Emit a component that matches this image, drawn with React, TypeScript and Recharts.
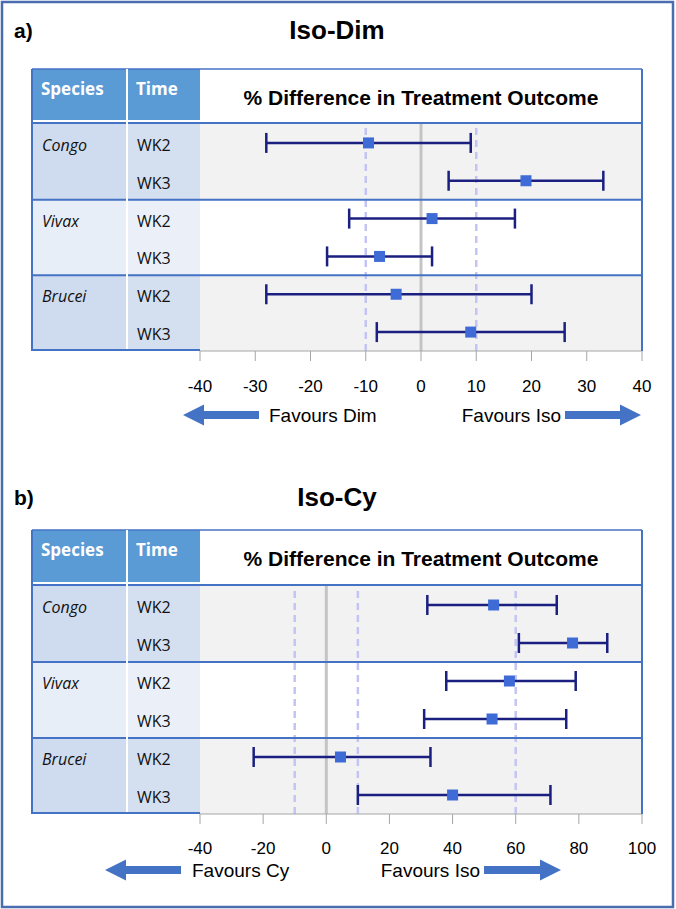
import React from "react";
import { ScatterChart, Scatter, XAxis, YAxis, ErrorBar, ReferenceArea, ReferenceLine } from "recharts";

// --- data ---
const SPECIES = ["Congo", "Vivax", "Brucei"];
const TIMES = ["WK2", "WK3"];

// Iso vs Dim (rows: Congo WK2, Congo WK3, Vivax WK2, Vivax WK3, Brucei WK2, Brucei WK3)
const isoDimMean = [-9.5, 19, 2, -7.5, -4.5, 9];
const isoDimLow = [-28, 5, -13, -17, -28, -8];
const isoDimHigh = [9, 33, 17, 2, 20, 26];
const isoDimTicks = [-40, -30, -20, -10, 0, 10, 20, 30, 40];
const isoDimGuides = [-10, 10];

// Iso vs Cy
const isoCyMean = [53, 78, 58, 52.5, 4.5, 40];
const isoCyLow = [32, 61, 38, 31, -23, 10];
const isoCyHigh = [73, 89, 79, 76, 33, 71];
const isoCyTicks = [-40, -20, 0, 20, 40, 60, 80, 100];
const isoCyGuides = [-10, 10, 60];

const BORDER = "#4472C4";
const HEAD = "#5B9BD5";
const SANS = "'Liberation Sans', Arial, sans-serif";
const BODY = "'Open Sans', 'DejaVu Sans', sans-serif";

const W = 676;
const PLOT_L = 200;
const PLOT_R = 642;
const TABLE_L = 32;

function toRows(mean: number[], low: number[], high: number[]) {
  return mean.map((m, i) => ({ row: i, value: m, err: [m - low[i], high[i] - m] }));
}

function RowTick(props: any) {
  const { y, payload } = props;
  const i = payload.value as number;
  return (
    <g fontFamily={BODY} fontSize={16} fill="#111">
      {i % 2 === 0 && (
        <text x={42} y={y + 2} dominantBaseline="central" fontStyle="italic">
          {SPECIES[i / 2]}
        </text>
      )}
      <text x={137} y={y + 2} dominantBaseline="central">
        {TIMES[i % 2]}
      </text>
    </g>
  );
}

// square marker centred on the point Recharts computed
function Marker(props: any) {
  const { cx, cy } = props;
  return <rect x={cx - 5.5} y={cy - 5.5} width={11} height={11} fill="#3E6BD6" />;
}

type PanelCfg = {
  letter: string;
  title: string;
  titleY: number;
  tableTop: number;
  plotTop: number;
  plotBottom: number;
  tickMargin: number;
  domain: [number, number];
  ticks: number[];
  guides: number[];
  data: { row: number; value: number; err: number[] }[];
  arrowY: number;
  leftArrow: [number, number];
  leftLabel: string;
  leftLabelX: number;
  rightArrow: [number, number];
  rightLabel: string;
  rightLabelX: number;
};

const panels: PanelCfg[] = [
  {
    letter: "a)",
    title: "Iso-Dim",
    titleY: 30,
    tableTop: 69,
    plotTop: 124,
    plotBottom: 351,
    tickMargin: 19,
    domain: [-40, 40],
    ticks: isoDimTicks,
    guides: isoDimGuides,
    data: toRows(isoDimMean, isoDimLow, isoDimHigh),
    arrowY: 415,
    leftArrow: [183, 259],
    leftLabel: "Favours Dim",
    leftLabelX: 269,
    rightArrow: [565, 641],
    rightLabel: "Favours Iso",
    rightLabelX: 561,
  },
  {
    letter: "b)",
    title: "Iso-Cy",
    titleY: 497,
    tableTop: 530,
    plotTop: 586,
    plotBottom: 814,
    tickMargin: 18,
    domain: [-40, 100],
    ticks: isoCyTicks,
    guides: isoCyGuides,
    data: toRows(isoCyMean, isoCyLow, isoCyHigh),
    arrowY: 870,
    leftArrow: [105, 181],
    leftLabel: "Favours Cy",
    leftLabelX: 192,
    rightArrow: [484, 561],
    rightLabel: "Favours Iso",
    rightLabelX: 480,
  },
];

function arrow(tip: number, tail: number, cy: number) {
  const dir = tail > tip ? 1 : -1;
  const h = tip + dir * 21;
  return [
    [tip, cy],
    [h, cy - 10.5],
    [h, cy - 4],
    [tail, cy - 4],
    [tail, cy + 4],
    [h, cy + 4],
    [h, cy + 10.5],
  ]
    .map((p) => p.join(","))
    .join(" ");
}

function PanelChart({ p }: { p: PanelCfg }) {
  const plotH = p.plotBottom - p.plotTop;
  return (
    <div style={{ position: "absolute", left: 0, top: p.plotTop }}>
      <ScatterChart width={W} height={plotH + 60} margin={{ top: 0, right: W - PLOT_R, bottom: 0, left: 0 }}>
        <XAxis
          type="number"
          dataKey="value"
          domain={p.domain}
          ticks={p.ticks}
          interval={0}
          height={60}
          tickSize={10}
          tickMargin={p.tickMargin}
          stroke="#A6A6A6"
          tick={{ fill: "#000", fontSize: 17, fontFamily: SANS }}
        />
        <YAxis
          type="number"
          dataKey="row"
          domain={[-0.5, 5.5]}
          ticks={[0, 1, 2, 3, 4, 5]}
          interval={0}
          reversed
          width={PLOT_L}
          axisLine={false}
          tickLine={false}
          tick={<RowTick />}
        />
        <ReferenceArea y1={-0.5} y2={1.5} fill="#F2F2F2" fillOpacity={1} stroke="none" />
        <ReferenceArea y1={3.5} y2={5.5} fill="#F2F2F2" fillOpacity={1} stroke="none" />
        {p.guides.map((g) => (
          <ReferenceLine key={g} x={g} stroke="#C4C4F4" strokeWidth={2.5} strokeDasharray="7 5" />
        ))}
        <ReferenceLine x={0} stroke="#C4C4C4" strokeWidth={3} />
        <Scatter data={p.data} shape={<Marker />} isAnimationActive={false}>
          <ErrorBar dataKey="err" direction="x" width={10} stroke="#1A1F80" strokeWidth={2.5} />
        </Scatter>
      </ScatterChart>
    </div>
  );
}

function Underlay() {
  return (
    <svg width={W} height={909} style={{ position: "absolute", left: 0, top: 0 }}>
      {panels.map((p) => {
        const rowH = (p.plotBottom - p.plotTop) / 6;
        return SPECIES.map((s, g) => {
          const y = p.plotTop + g * 2 * rowH;
          const dark = g !== 1;
          return (
            <g key={p.letter + s}>
              <rect x={TABLE_L} y={y} width={94} height={2 * rowH} fill={dark ? "#CFDBEE" : "#E8EEF7"} />
              <rect x={128} y={y} width={72} height={2 * rowH} fill={dark ? "#D4DFF0" : "#EBF0F8"} />
            </g>
          );
        });
      })}
    </svg>
  );
}

function Overlay() {
  return (
    <svg width={W} height={909} style={{ position: "absolute", left: 0, top: 0, pointerEvents: "none" }}>
      <rect x={2} y={2} width={671} height={905} fill="none" stroke="#4A6DB0" strokeWidth={2.5} />
      {panels.map((p) => {
        const rowH = (p.plotBottom - p.plotTop) / 6;
        const headBottom = p.plotTop - 4;
        return (
          <g key={p.letter}>
            <text x={14} y={p.titleY} dominantBaseline="central" fontFamily={SANS} fontWeight="bold" fontSize={21}>
              {p.letter}
            </text>
            <text x={337} y={p.titleY} dominantBaseline="central" textAnchor="middle" fontFamily={SANS} fontWeight="bold" fontSize={26}>
              {p.title}
            </text>

            {/* header cells */}
            <rect x={TABLE_L} y={p.tableTop} width={94} height={headBottom - p.tableTop} fill={HEAD} />
            <rect x={128} y={p.tableTop} width={72} height={headBottom - p.tableTop} fill={HEAD} />
            <text x={41} y={p.tableTop + 19} dominantBaseline="central" fill="#fff" fontFamily={BODY} fontWeight="bold" fontSize={17}>
              Species
            </text>
            <text x={136} y={p.tableTop + 19} dominantBaseline="central" fill="#fff" fontFamily={BODY} fontWeight="bold" fontSize={17}>
              Time
            </text>
            <text
              x={(PLOT_L + PLOT_R) / 2}
              y={p.tableTop + 28}
              dominantBaseline="central"
              textAnchor="middle"
              fontFamily={SANS}
              fontWeight="bold"
              fontSize={21}
            >
              % Difference in Treatment Outcome
            </text>

            {/* table rules */}
            <line x1={TABLE_L} x2={PLOT_R} y1={p.tableTop} y2={p.tableTop} stroke={BORDER} strokeWidth={1.5} />
            <line x1={TABLE_L} x2={PLOT_R + 1} y1={p.plotTop - 1} y2={p.plotTop - 1} stroke={BORDER} strokeWidth={2} />
            <line x1={TABLE_L} x2={PLOT_R + 1} y1={p.plotTop + 2 * rowH} y2={p.plotTop + 2 * rowH} stroke={BORDER} strokeWidth={2} />
            <line x1={TABLE_L} x2={PLOT_R + 1} y1={p.plotTop + 4 * rowH} y2={p.plotTop + 4 * rowH} stroke={BORDER} strokeWidth={2} />
            <line x1={TABLE_L} x2={TABLE_L} y1={p.tableTop} y2={p.plotBottom} stroke={BORDER} strokeWidth={2} />
            <line x1={PLOT_R} x2={PLOT_R} y1={p.tableTop} y2={p.plotBottom} stroke={BORDER} strokeWidth={2} />
            <line x1={127} x2={127} y1={p.tableTop} y2={p.plotBottom - 2} stroke="#fff" strokeWidth={2} />
            <line x1={TABLE_L} x2={PLOT_L} y1={p.plotBottom - 1} y2={p.plotBottom - 1} stroke={BORDER} strokeWidth={2} />

            {/* favours arrows */}
            <polygon points={arrow(p.leftArrow[0], p.leftArrow[1], p.arrowY)} fill={BORDER} />
            <polygon points={arrow(p.rightArrow[1], p.rightArrow[0], p.arrowY)} fill={BORDER} />
            <text x={p.leftLabelX} y={p.arrowY} dominantBaseline="central" fontFamily={SANS} fontSize={19}>
              {p.leftLabel}
            </text>
            <text x={p.rightLabelX} y={p.arrowY} dominantBaseline="central" textAnchor="end" fontFamily={SANS} fontSize={19}>
              {p.rightLabel}
            </text>
          </g>
        );
      })}
    </svg>
  );
}

export default function App() {
  return (
    <div style={{ position: "absolute", left: 0, top: 0, width: W, height: 909, background: "#fff" }}>
      <Underlay />
      {panels.map((p) => (
        <PanelChart key={p.letter} p={p} />
      ))}
      <Overlay />
    </div>
  );
}
